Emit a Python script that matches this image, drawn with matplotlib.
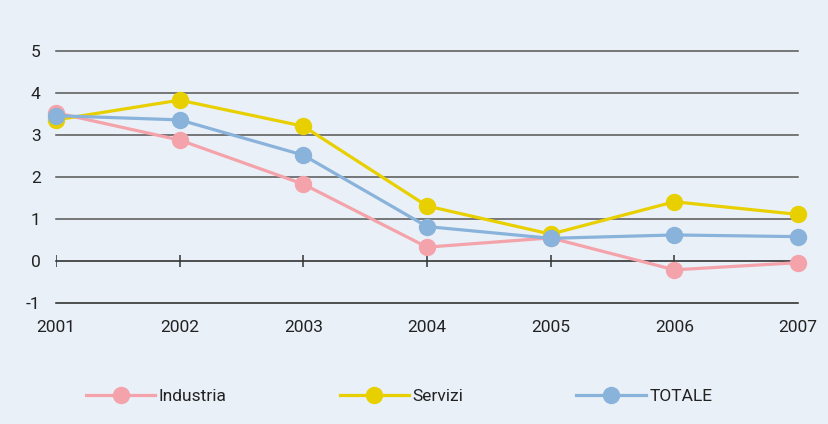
import matplotlib
matplotlib.use('Agg')
import matplotlib.pyplot as plt

# values
years = [2001, 2002, 2003, 2004, 2005, 2006, 2007]
industria = [3.53, 2.88, 1.83, 0.33, 0.55, -0.21, -0.04]
servizi = [3.36, 3.83, 3.21, 1.31, 0.64, 1.41, 1.11]
totale = [3.46, 3.36, 2.52, 0.82, 0.54, 0.62, 0.58]

series_names = ['Industria', 'Servizi', 'TOTALE']
series_colors = ['#F5A3AA', '#E8D000', '#89B3DA']
y_ticks = [-1, 0, 1, 2, 3, 4, 5]

bg = '#E9F0F8'
plt.rcParams['font.family'] = ['Roboto', 'DejaVu Sans']
plt.rcParams['axes.unicode_minus'] = False

fig = plt.figure(figsize=(8.29, 4.24), dpi=100, facecolor=bg)
ax = fig.add_axes([56 / 829, 1 - 303 / 424, (798 - 56) / 829, (303 - 51) / 424])
ax.set_facecolor(bg)

# horizontal grid lines
for yv in y_ticks:
    col = '#222222' if yv in (0, -1) else '#555555'
    ax.plot([years[0], years[-1]], [yv, yv], color=col, lw=1.1, zorder=1, clip_on=False)
# small tick marks on the zero line
ax.vlines(years, -0.15, 0.15, color='#333333', lw=1.1, zorder=1)

for vals, name, col in zip([industria, servizi, totale], series_names, series_colors):
    ax.plot(years, vals, color=col, lw=2.3, marker='o', markersize=11.5,
            label=name, zorder=3, clip_on=False)

ax.set_xlim(years[0], years[-1])
ax.set_ylim(-1, 5)
ax.set_xticks(years)
ax.set_xticklabels([str(y) for y in years])
ax.set_yticks(y_ticks)
ax.tick_params(axis='both', length=0, labelsize=12.5, colors='#222222')
ax.tick_params(axis='x', pad=12)
ax.tick_params(axis='y', pad=11)
for s in ax.spines.values():
    s.set_visible(False)

leg = fig.legend(loc='center left', bbox_to_anchor=(86 / 829, 1 - 396 / 424), ncol=3,
                 frameon=False, fontsize=12.5, handlelength=4.0, handletextpad=0.2,
                 columnspacing=6.5, borderpad=0, borderaxespad=0, labelcolor='#222222')

fig.savefig('out.png', dpi=100, facecolor=bg)
